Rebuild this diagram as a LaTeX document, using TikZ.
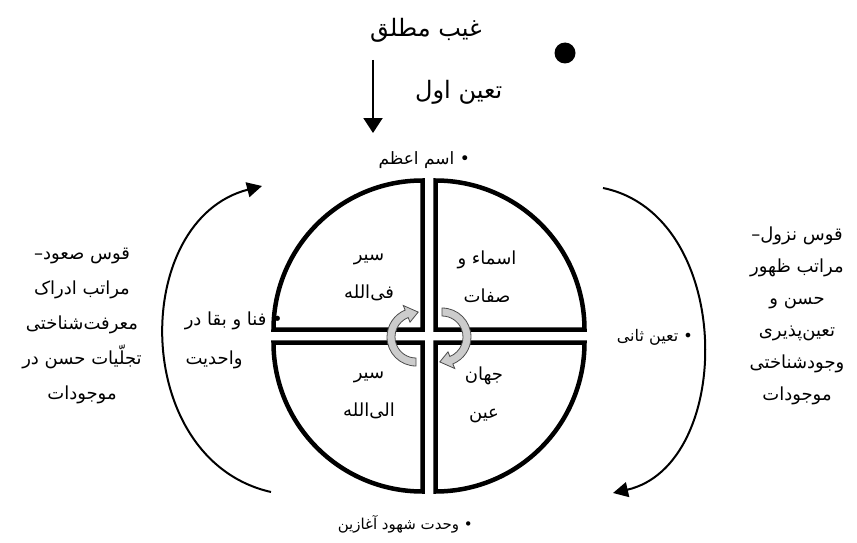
\documentclass[tikz,border=0pt]{standalone}
\usepackage{fontspec}
\newfontfamily\fa[Script=Arabic]{DejaVu Sans}
\TeXXeTstate=1
\usetikzlibrary{arrows.meta,calc}
\newcommand{\rtl}[1]{\beginR #1\endR}
\begin{document}
\begin{tikzpicture}[x=1pt,y=-1pt,
  quad/.style={line width=4.5pt,line join=miter},
  bigarc/.style={line width=2pt,-{Triangle[length=15pt,width=15pt]}},
  downarr/.style={line width=2pt,-{Triangle[length=15pt,width=19pt]}},
  garrow/.style={draw=black!70,fill=black!20,line width=0.8pt,line join=miter},
  title/.style={font=\fa\fontsize{24}{28}\selectfont,inner sep=0pt},
  lbl/.style={font=\fa\fontsize{16}{19}\selectfont,inner sep=0pt},
  qtxt/.style={font=\fa\fontsize{18}{38}\selectfont,inner sep=0pt,align=center},
  side/.style={font=\fa\fontsize{18}{35}\selectfont,inner sep=0pt,align=center},
]
\useasboundingbox (0,0) rectangle (857,543);
\fill[white] (0,0) rectangle (857,543);

% quadrants
\draw[quad] (422.5,329.5) -- (273.5,329.5) arc[start angle=180,end angle=90,radius=149pt] -- cycle;
\draw[quad] (435.5,329.5) -- (435.5,180.5) arc[start angle=90,end angle=0,radius=149pt] -- cycle;
\draw[quad] (422.5,342.5) -- (273.5,342.5) arc[start angle=180,end angle=270,radius=149pt] -- cycle;
\draw[quad] (435.5,342.5) -- (584.5,342.5) arc[start angle=0,end angle=-90,radius=149pt] -- cycle;

% central grey arrows
\coordinate (cl) at (416,337);
\coordinate (cr) at (442,337);
\draw[garrow] ($(cl)+(270:29pt)$) arc[start angle=270,end angle=112,radius=29pt]
  -- ($(cl)+(112:34pt)$) -- ($(cl)+(85:25pt)$) -- ($(cl)+(112:16pt)$)
  -- ($(cl)+(112:21pt)$) arc[start angle=112,end angle=270,radius=21pt] -- cycle;
\draw[garrow] ($(cr)+(90:29pt)$) arc[start angle=90,end angle=-68,radius=29pt]
  -- ($(cr)+(-68:34pt)$) -- ($(cr)+(-95:25pt)$) -- ($(cr)+(-68:16pt)$)
  -- ($(cr)+(-68:21pt)$) arc[start angle=-68,end angle=90,radius=21pt] -- cycle;

% outer arcs
\coordinate (la1) at (271,492);
\coordinate (la2) at (262,186);
\coordinate (ra1) at (603,188);
\coordinate (ra2) at (613,493);
\draw[bigarc] (la1) .. controls (130,460) and (130,220) .. (la2);
\draw[bigarc] (ra1) .. controls (735,215) and (735,465) .. (ra2);

% top
\coordinate (da1) at (373,60);
\coordinate (da2) at (373,133);
\draw[downarr] (da1) -- (da2);
\fill (565,53) circle[radius=10.5pt];

\node[title,anchor=west] (ghayb) at (370,30) {\rtl{غیب مطلق}};
\node[title,anchor=west] (tain1) at (415,92) {\rtl{تعین اول}};
\node[lbl,font=\fa\fontsize{17}{20}\selectfont,anchor=east] (esm) at (470,160) {\rtl{• اسم اعظم}};

\node[qtxt] (tl) at (369,277) {\rtl{سیر}\\\rtl{فی^^^^200cالله}};
\node[qtxt] (tr) at (487,277) {\rtl{اسماء و}\\\rtl{صفات}};
\node[qtxt] (bl) at (369,395) {\rtl{سیر}\\\rtl{الی^^^^200cالله}};
\node[qtxt] (br) at (484,395) {\rtl{جهان}\\\rtl{عین}};

\node[lbl,font=\fa\fontsize{18}{21}\selectfont,anchor=east] (fana1) at (283,321) {\rtl{• فنا و بقا در}};
\node[lbl,font=\fa\fontsize{18}{21}\selectfont] (fana2) at (214,360) {\rtl{واحدیت}};
\node[lbl,font=\fa\fontsize{16}{19}\selectfont,anchor=east] (tain2) at (693,337) {\rtl{• تعین ثانی}};
\node[lbl,font=\fa\fontsize{15}{18}\selectfont,anchor=east] (vahdat) at (473,524) {\rtl{• وحدت شهود آغازین}};

\node[side] (sood) at (82,326) {\rtl{قوس صعود–}\\\rtl{مراتب ادراک}\\\rtl{معرفت^^^^200cشناختی}\\\rtl{تجلّیات حسن در}\\\rtl{موجودات}};
\node[side,font=\fa\fontsize{18}{32}\selectfont] (nozul) at (797,316) {\rtl{قوس نزول–}\\\rtl{مراتب ظهور}\\\rtl{حسن و}\\\rtl{تعین^^^^200cپذیری}\\\rtl{وجودشناختی}\\\rtl{موجودات}};
\end{tikzpicture}
\end{document}
